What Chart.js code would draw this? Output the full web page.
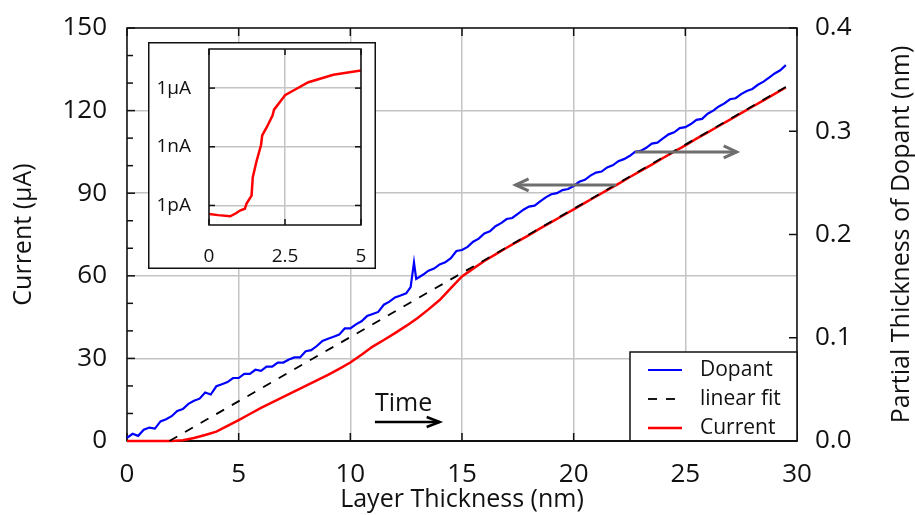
<!DOCTYPE html>
<html>
<head>
<meta charset="utf-8">
<script src="https://cdn.jsdelivr.net/npm/chart.js@4.4.1/dist/chart.umd.min.js"></script>
<style>
  html, body { margin: 0; padding: 0; background: #fff; }
  #wrap { position: relative; width: 915px; height: 515px; }
  #main { position: absolute; left: 0; top: 0; }
  #inset { position: absolute; left: 148px; top: 42px; background: #fff; }
</style>
</head>
<body>
<div id="wrap">
  <canvas id="main" width="915" height="515"></canvas>
  <canvas id="inset" width="228" height="227"></canvas>
</div>
<script>
// layer thickness (nm) for the dopant trace, and partial dopant thickness (nm, right axis)
var dopantX = [0, 0.25, 0.5, 0.75, 1, 1.25, 1.5, 1.75, 2, 2.25, 2.5, 2.75, 3, 3.25, 3.5, 3.75,
  4, 4.25, 4.5, 4.75, 5, 5.25, 5.5, 5.75, 6, 6.25, 6.5, 6.75, 7, 7.25, 7.5, 7.75, 8, 8.25, 8.5, 8.75,
  9, 9.25, 9.5, 9.75, 10, 10.25, 10.5, 10.75, 11, 11.25, 11.5, 11.75, 12, 12.25, 12.5, 12.7, 12.85,
  12.95, 13.25, 13.5, 13.75, 14, 14.25, 14.5, 14.75, 15, 15.25, 15.5, 15.75, 16, 16.25, 16.5, 16.75,
  17, 17.25, 17.5, 17.75, 18, 18.25, 18.5, 18.75, 19, 19.25, 19.5, 19.75, 20, 20.25, 20.5, 20.75,
  21, 21.25, 21.5, 21.75, 22, 22.25, 22.5, 22.75, 23, 23.25, 23.5, 23.75, 24, 24.25, 24.5, 24.75,
  25, 25.25, 25.5, 25.75, 26, 26.25, 26.5, 26.75, 27, 27.25, 27.5, 27.75, 28, 28.25, 28.5, 28.75,
  29, 29.25, 29.5];
var dopantNm = [0.003, 0.007, 0.005, 0.011, 0.013, 0.012, 0.019, 0.021, 0.024, 0.029, 0.031, 0.036,
  0.039, 0.041, 0.047, 0.045, 0.053, 0.055, 0.057, 0.061, 0.061, 0.065, 0.065, 0.069, 0.068, 0.072,
  0.072, 0.076, 0.076, 0.079, 0.081, 0.081, 0.087, 0.088, 0.092, 0.097, 0.099, 0.101, 0.103, 0.109,
  0.109, 0.113, 0.116, 0.121, 0.123, 0.125, 0.132, 0.135, 0.139, 0.141, 0.143, 0.149, 0.173, 0.157,
  0.161, 0.165, 0.167, 0.171, 0.173, 0.177, 0.184, 0.185, 0.188, 0.193, 0.196, 0.201, 0.203, 0.208,
  0.211, 0.215, 0.216, 0.220, 0.224, 0.227, 0.228, 0.232, 0.236, 0.239, 0.240, 0.243, 0.244, 0.247,
  0.251, 0.253, 0.257, 0.260, 0.261, 0.265, 0.267, 0.271, 0.273, 0.276, 0.280, 0.281, 0.284, 0.288,
  0.289, 0.293, 0.297, 0.299, 0.303, 0.304, 0.307, 0.311, 0.312, 0.317, 0.320, 0.324, 0.327, 0.331,
  0.332, 0.336, 0.339, 0.341, 0.345, 0.348, 0.352, 0.356, 0.359, 0.364];

// current (uA, left axis)
var currentX = [0, 0.5, 1, 1.5, 2, 2.5, 3, 3.5, 4, 4.5, 5, 5.5, 6, 6.5, 7, 7.5, 8, 8.5, 9, 9.5,
  10, 10.5, 11, 11.5, 12, 12.5, 13, 13.5, 14, 14.5, 15, 15.5, 16, 16.5, 17, 17.5, 18, 18.5, 19, 19.5,
  20, 20.5, 21, 21.5, 22, 22.5, 23, 23.5, 24, 24.5, 25, 25.5, 26, 26.5, 27, 27.5, 28, 28.5, 29, 29.5];
var currentUA = [0, 0, 0, 0, 0, 0.3, 1.1, 2.2, 3.4, 5.5, 7.6, 9.8, 12, 14, 16, 18, 20, 22, 24, 26.2,
  28.5, 31.3, 34.3, 36.7, 39.2, 41.8, 44.6, 47.8, 51.2, 55.5, 59.8, 62.6, 65.4, 67.8, 70.2, 72.5,
  74.8, 77.2, 79.5, 81.8, 84.1, 86.5, 88.8, 91.1, 93.4, 95.8, 98.1, 100.4, 102.8, 105.1, 107.4,
  109.8, 112.1, 114.4, 116.7, 119.1, 121.4, 123.7, 126.1, 128.4];

// linear fit end points
var fitX = [1.9, 29.5];
var fitUA = [0, 128.6];

// inset: current on log scale over the first 5 nm
var insetX = [0, 0.3, 0.7, 0.9, 1.02, 1.18, 1.24, 1.4, 1.44, 1.57, 1.71, 1.75, 1.9, 2.09, 2.14,
  2.42, 2.5, 2.88, 3.27, 4.09, 5];
var insetA = [3.7e-13, 3.2e-13, 2.8e-13, 4.1e-13, 5.5e-13, 6.8e-13, 1.3e-12, 3.2e-12, 2.8e-11,
  2.0e-10, 1.2e-9, 3.8e-9, 1.0e-8, 4.0e-8, 7.9e-8, 2.9e-7, 4.3e-7, 9.3e-7, 2.0e-6, 4.8e-6, 7.9e-6];
var insetTicks = [1e-12, 1e-9, 1e-6];
var insetTickLabels = ['1pA', '1nA', '1\u03bcA'];

function pts(xs, ys) {
  return xs.map(function (x, i) { return { x: x, y: ys[i] }; });
}

Chart.defaults.font.family = "'Open Sans', sans-serif";
Chart.defaults.color = '#111';

var FONT = 26;
var GRID = '#c4c4c4';

function line(ctx, x1, y1, x2, y2) {
  ctx.beginPath(); ctx.moveTo(x1, y1); ctx.lineTo(x2, y2); ctx.stroke();
}

// open arrow from (x1,y) to (x2,y)
function hArrow(ctx, x1, x2, y, head, half) {
  var d = x2 > x1 ? 1 : -1;
  line(ctx, x1, y, x2, y);
  ctx.beginPath();
  ctx.moveTo(x2 - d * head, y - half);
  ctx.lineTo(x2, y);
  ctx.lineTo(x2 - d * head, y + half);
  ctx.stroke();
}

function noPad(s) { s.paddingTop = 0; s.paddingBottom = 0; }
function noPadX(s) { s.paddingLeft = 0; s.paddingRight = 0; }

var mainDecor = {
  id: 'mainDecor',
  // frame and inward ticks go under the curves
  beforeDatasetsDraw: function (chart) {
    var ctx = chart.ctx, a = chart.chartArea;
    var x = chart.scales.x, y = chart.scales.y, y2 = chart.scales.y2;
    ctx.save();
    ctx.strokeStyle = '#111';
    ctx.lineWidth = 1.5;
    var v, p;
    for (v = 0; v <= 150; v += 10) {
      p = y.getPixelForValue(v);
      line(ctx, a.left, p, a.left + (v % 30 === 0 ? 8 : 6), p);
    }
    for (v = 0; v <= 4; v += 1) {
      p = y2.getPixelForValue(v / 10);
      line(ctx, a.right, p, a.right - 8, p);
    }
    for (v = 0; v <= 30; v += 5) {
      p = x.getPixelForValue(v);
      line(ctx, p, a.bottom, p, a.bottom - 8);
      line(ctx, p, a.top, p, a.top + 8);
    }
    ctx.strokeRect(a.left, a.top, a.right - a.left, a.bottom - a.top);
    ctx.lineWidth = 2;
    line(ctx, a.left, a.bottom, a.right, a.bottom);
    ctx.restore();
  },
  afterDraw: function (chart) {
    var ctx = chart.ctx, a = chart.chartArea;
    var x = chart.scales.x, y = chart.scales.y;
    ctx.save();

    // axis arrows
    ctx.strokeStyle = '#6e6e6e';
    ctx.lineWidth = 3;
    hArrow(ctx, x.getPixelForValue(21.9), x.getPixelForValue(17.4), y.getPixelForValue(93), 13, 6);
    hArrow(ctx, x.getPixelForValue(22.75), x.getPixelForValue(27.3), y.getPixelForValue(105), 13, 6);

    // time arrow
    ctx.strokeStyle = '#000';
    ctx.lineWidth = 2.5;
    hArrow(ctx, x.getPixelForValue(11.1), x.getPixelForValue(14.0), y.getPixelForValue(6.9), 13, 5);
    ctx.fillStyle = '#111';
    ctx.font = '25px "Open Sans", sans-serif';
    ctx.textAlign = 'left';
    ctx.textBaseline = 'alphabetic';
    ctx.fillText('Time', x.getPixelForValue(11.1), y.getPixelForValue(10.9));

    // legend box
    var lw = 167, lh = 89, lx = a.right - lw, ly = a.bottom - lh;
    ctx.fillStyle = '#fff';
    ctx.fillRect(lx, ly, lw, lh);
    ctx.strokeStyle = '#111';
    ctx.lineWidth = 1.5;
    ctx.strokeRect(lx, ly, lw, lh);
    ctx.lineWidth = 2;
    line(ctx, lx, a.bottom, a.right, a.bottom);
    ctx.font = '21px "Open Sans", sans-serif';
    ctx.textBaseline = 'middle';
    chart.data.datasets.forEach(function (ds, i) {
      var ry = ly + 18 + i * 29;
      ctx.strokeStyle = ds.borderColor;
      ctx.lineWidth = ds.borderWidth;
      ctx.setLineDash(ds.borderDash || []);
      line(ctx, lx + 18, ry, lx + 52, ry);
      ctx.setLineDash([]);
      ctx.fillStyle = '#111';
      ctx.fillText(ds.label, lx + 70, ry);
    });

    // right axis title, reading bottom to top
    ctx.translate(902, (a.top + a.bottom) / 2);
    ctx.rotate(-Math.PI / 2);
    ctx.font = '25px "Open Sans", sans-serif';
    ctx.textAlign = 'center';
    ctx.fillText('Partial Thickness of Dopant (nm)', 0, 0);
    ctx.restore();
  }
};

new Chart(document.getElementById('main'), {
  type: 'line',
  data: {
    datasets: [
      { label: 'Dopant', data: pts(dopantX, dopantNm), yAxisID: 'y2',
        borderColor: '#0000ff', borderWidth: 2.2, pointRadius: 0, tension: 0, clip: 4 },
      { label: 'linear fit', data: pts(fitX, fitUA), yAxisID: 'y',
        borderColor: '#000000', borderWidth: 1.8, borderDash: [9, 9], pointRadius: 0, clip: 4 },
      { label: 'Current', data: pts(currentX, currentUA), yAxisID: 'y',
        borderColor: '#ff0000', borderWidth: 2.5, pointRadius: 0, tension: 0, clip: 4 }
    ]
  },
  options: {
    responsive: false,
    animation: false,
    layout: { padding: { top: 28, left: 0, right: 0, bottom: 0 } },
    plugins: { legend: { display: false }, tooltip: { enabled: false } },
    scales: {
      x: {
        type: 'linear', min: 0, max: 30,
        ticks: { stepSize: 5, padding: 18, font: { size: FONT } },
        grid: { color: GRID, lineWidth: 1.5, drawTicks: false },
        border: { display: false },
        title: { display: true, text: 'Layer Thickness (nm)', font: { size: 25 }, padding: { top: 0, bottom: 0 } },
        afterFit: function (s) { s.height = 74; }
      },
      y: {
        position: 'left', min: 0, max: 150,
        ticks: { stepSize: 30, padding: 20, font: { size: FONT } },
        grid: { color: GRID, lineWidth: 1.5, drawTicks: false },
        border: { display: false },
        title: { display: true, text: 'Current (\u03bcA)', font: { size: 25 }, padding: { top: 9, bottom: 0 } },
        afterFit: function (s) { s.width = 127; noPad(s); }
      },
      y2: {
        position: 'right', min: 0, max: 0.4,
        ticks: { stepSize: 0.1, padding: 18, font: { size: FONT },
          callback: function (v) { return v.toFixed(1); } },
        grid: { display: false, drawTicks: false },
        border: { display: false },
        afterFit: function (s) { s.width = 118; noPad(s); }
      }
    }
  },
  plugins: [mainDecor]
});

var insetDecor = {
  id: 'insetDecor',
  afterDraw: function (chart) {
    var ctx = chart.ctx, a = chart.chartArea;
    var x = chart.scales.x, y = chart.scales.y;
    ctx.save();
    ctx.strokeStyle = '#111';
    ctx.lineWidth = 1.5;
    insetTicks.forEach(function (v) {
      var p = y.getPixelForValue(v);
      line(ctx, a.left, p, a.left + 6, p);
      line(ctx, a.right, p, a.right - 6, p);
    });
    [0, 2.5, 5].forEach(function (v) {
      var p = x.getPixelForValue(v);
      line(ctx, p, a.bottom, p, a.bottom - 6);
      line(ctx, p, a.top, p, a.top + 6);
    });
    ctx.strokeRect(a.left, a.top, a.right - a.left, a.bottom - a.top);
    ctx.strokeRect(0.75, 0.75, chart.width - 1.5, chart.height - 1.5);
    ctx.restore();
  }
};

new Chart(document.getElementById('inset'), {
  type: 'line',
  data: {
    datasets: [
      { label: 'Current', data: pts(insetX, insetA), borderColor: '#ff0000',
        borderWidth: 2.5, pointRadius: 0, tension: 0 }
    ]
  },
  options: {
    responsive: false,
    animation: false,
    layout: { padding: { top: 7, right: 15, left: 0, bottom: 0 } },
    plugins: { legend: { display: false }, tooltip: { enabled: false } },
    scales: {
      x: {
        type: 'linear', min: 0, max: 5,
        ticks: { stepSize: 2.5, padding: 20, font: { size: 19 }, maxRotation: 0 },
        grid: { color: GRID, lineWidth: 1.5, drawTicks: false },
        border: { display: false },
        afterFit: function (s) { s.height = 44; noPadX(s); }
      },
      y: {
        type: 'logarithmic', min: 1e-13, max: 1e-4,
        ticks: { padding: 18, font: { size: 19 },
          callback: function (v, i) { return insetTickLabels[i]; } },
        afterBuildTicks: function (s) {
          s.ticks = insetTicks.map(function (v) { return { value: v }; });
        },
        grid: { color: GRID, lineWidth: 1.5, drawTicks: false },
        border: { display: false },
        afterFit: function (s) { s.width = 61; noPad(s); }
      }
    }
  },
  plugins: [insetDecor]
});
</script>
</body>
</html>
